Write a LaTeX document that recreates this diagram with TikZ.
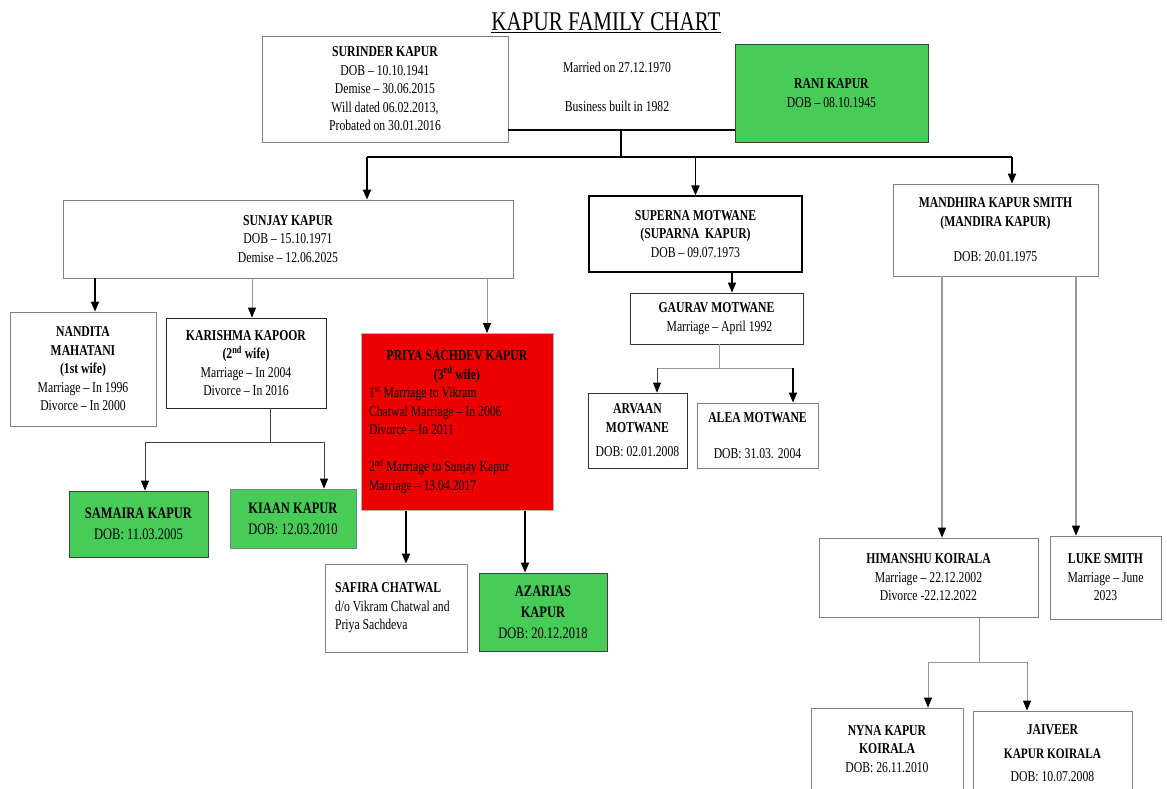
\documentclass[tikz,border=0pt]{standalone}
\usepackage{fontspec}
\setmainfont{Liberation Serif}[FakeStretch=0.78]
\usetikzlibrary{arrows.meta}

\definecolor{leaf}{HTML}{47CD57}
\definecolor{alert}{HTML}{EE0000}
\newcommand{\chartfont}{\fontsize{15}{18.5}\selectfont}
\newcommand{\kidfont}{\fontsize{16}{21}\selectfont}

\begin{document}
\begin{tikzpicture}[x=1pt,y=-1pt,>={Triangle[length=10pt,width=8pt,color=black]},
    person/.style={draw=black!50,line width=0.8pt,fill=white,inner sep=0pt,align=center,font=\chartfont},
    boxsize/.style 2 args={minimum width=#1pt,minimum height=#2pt},
    heir/.style={person,fill=leaf,draw=black!75},
    trunk/.style={line width=1.8pt},
    twig/.style={line width=0.9pt,draw=black!75},
    stem/.style={line width=0.9pt,draw=black!40}]

    \useasboundingbox (0,0) rectangle (1167,788);
    \clip (0,0) rectangle (1167,788);
    \fill[white] (0,0) rectangle (1167,788);

    \node[font=\fontsize{27}{32}\selectfont] (title) at (606,23) {\underline{KAPUR FAMILY CHART}};

    % parents
    \node[person,boxsize={246}{106}] (sur) at (385,89) {\textbf{SURINDER KAPUR}\\DOB – 10.10.1941\\Demise – 30.06.2015\\Will dated 06.02.2013,\\Probated on 30.01.2016};
    \node[align=center,font=\chartfont] (vows) at (617,87) {Married on 27.12.1970\\[20pt]Business built in 1982};
    \node[heir,boxsize={193}{98}] (rani) at (831.5,93) {\textbf{RANI KAPUR}\\DOB – 08.10.1945};

    \coordinate (wed) at (621,130);
    \coordinate (fork) at (621,157);
    \coordinate (forkL) at (367,157);
    \coordinate (forkR) at (1012,157);

    % children
    \node[person,boxsize={450}{78}] (sun) at (288,239) {\textbf{SUNJAY KAPUR}\\DOB – 15.10.1971\\Demise – 12.06.2025};
    \node[person,draw=black,line width=1.2pt,boxsize={213}{76}] (sup) at (695.5,234) {\textbf{SUPERNA MOTWANE}\\\textbf{(SUPARNA~~KAPUR)}\\DOB – 09.07.1973};
    \node[person,boxsize={205}{92}] (man) at (995.5,230) {\textbf{MANDHIRA KAPUR SMITH}\\\textbf{(MANDIRA KAPUR)}\\[17pt]DOB: 20.01.1975};

    \draw[trunk] (sur.east |- wed) -- (rani.west |- wed);
    \draw[trunk] (wed) -- (fork);
    \draw[trunk] (forkL) -- (forkR);
    \draw[trunk,->] (forkL) -- (forkL |- sun.north);
    \draw[trunk,->] (sup.north |- fork) -- (sup.north);
    \draw[trunk,->] (forkR) -- (forkR |- man.north);

    % Sunjay's wives
    \node[person,boxsize={146}{114}] (nan) at (83,369) {\textbf{NANDITA}\\\textbf{MAHATANI}\\\textbf{(1st wife)}\\Marriage – In 1996\\Divorce – In 2000};
    \node[person,draw=black!85,boxsize={160}{90}] (kar) at (246,363) {\textbf{KARISHMA KAPOOR}\\\textbf{(2\textsuperscript{nd} wife)}\\Marriage – In 2004\\Divorce – In 2016};
    \node[person,fill=alert,draw=black!30,boxsize={192}{177},text width=176pt,align=flush left] (pri) at (457,422)
        {{\noindent\centering\textbf{PRIYA SACHDEV KAPUR}\\\textbf{(3\textsuperscript{rd} wife)}\par}\noindent 1\textsuperscript{st} Marriage to Vikram\\Chatwal Marriage – In 2006\\Divorce – In 2011\\[18.5pt]2\textsuperscript{nd} Marriage to Sunjay Kapur\\Marriage – 13.04.2017};

    \draw[line width=1.4pt,->] (sun.south -| 95,0) -- (nan.north -| 95,0);
    \draw[stem,->] (sun.south -| 252,0) -- (kar.north -| 252,0);
    \draw[stem,->] (sun.south -| 487,0) -- (pri.north -| 487,0);

    % Karishma's children
    \node[heir,font=\kidfont,boxsize={139}{66}] (sam) at (138.5,524) {\textbf{SAMAIRA KAPUR}\\DOB: 11.03.2005};
    \node[heir,draw=black!50,font=\kidfont,boxsize={126}{59}] (kia) at (293,518.5) {\textbf{KIAAN KAPUR}\\DOB: 12.03.2010};

    \coordinate (karfork) at (270,442);
    \coordinate (karL) at (145,442);
    \coordinate (karR) at (324,442);
    \draw[twig] (kar.south -| karfork) -- (karfork);
    \draw[twig] (karL) -- (karR);
    \draw[twig,->] (karL) -- (karL |- sam.north);
    \draw[twig,->] (karR) -- (karR |- kia.north);

    % Priya's children
    \node[person,boxsize={142}{88},text width=122pt,align=flush left] (saf) at (396,608) {\textbf{SAFIRA CHATWAL}\\d/o Vikram Chatwal and\\Priya Sachdeva\\[4pt]};
    \node[heir,font=\kidfont,boxsize={128}{78}] (aza) at (543,612) {\textbf{AZARIAS}\\\textbf{KAPUR}\\DOB: 20.12.2018};

    \draw[trunk,->] (pri.south -| 406,0) -- (saf.north -| 406,0);
    \draw[trunk,->] (pri.south -| 525,0) -- (aza.north -| 525,0);

    % Superna's family
    \node[person,draw=black!80,boxsize={173}{51}] (gau) at (716.5,318.5) {\textbf{GAURAV MOTWANE}\\\ \ Marriage – April 1992};
    \node[person,draw=black!80,boxsize={99}{75}] (arv) at (637.5,430.5) {\textbf{ARVAAN}\\\textbf{MOTWANE}\\[6pt]DOB: 02.01.2008};
    \node[person,boxsize={121}{65}] (ale) at (757.5,435.5) {\textbf{ALEA MOTWANE}\\[18pt]DOB: 31.03. 2004};

    \draw[line width=1.2pt,->] (sup.south -| 732,0) -- (gau.north -| 732,0);
    \coordinate (gaufork) at (719,368);
    \coordinate (gauL) at (657,368);
    \coordinate (gauR) at (793,368);
    \draw[stem] (gau.south -| gaufork) -- (gaufork);
    \draw[stem] (gauL) -- (gauR);
    \draw[twig,->] (gauL) -- (gauL |- arv.north);
    \draw[line width=1.4pt,->] (gauR) -- (gauR |- ale.north);

    % Mandhira's family
    \node[person,boxsize={219}{79}] (him) at (928.5,577.5) {\textbf{HIMANSHU KOIRALA}\\Marriage – 22.12.2002\\Divorce -22.12.2022};
    \node[person,boxsize={111}{83}] (luk) at (1105.5,577.5) {\textbf{LUKE SMITH}\\Marriage – June\\2023};

    \draw[stem,line width=1.3pt,->] (man.south -| 942,0) -- (him.north -| 942,0);
    \draw[stem,line width=1.3pt,->] (man.south -| 1076,0) -- (luk.north -| 1076,0);

    \node[person,boxsize={152}{82}] (nyn) at (887,749) {\textbf{NYNA KAPUR}\\\textbf{KOIRALA}\\DOB: 26.11.2010};
    \node[person,boxsize={159}{85}] (jai) at (1052.5,753.5) {\textbf{JAIVEER}\\[5pt]{\fontsize{14.5}{18}\selectfont\textbf{KAPUR KOIRALA}}\\[5pt]DOB: 10.07.2008};

    \coordinate (himfork) at (979,662);
    \coordinate (himL) at (928,662);
    \coordinate (himR) at (1027,662);
    \draw[stem] (him.south -| himfork) -- (himfork);
    \draw[stem] (himL) -- (himR);
    \draw[stem,->] (himL) -- (himL |- nyn.north);
    \draw[stem,->] (himR) -- (himR |- jai.north);

\end{tikzpicture}
\end{document}
